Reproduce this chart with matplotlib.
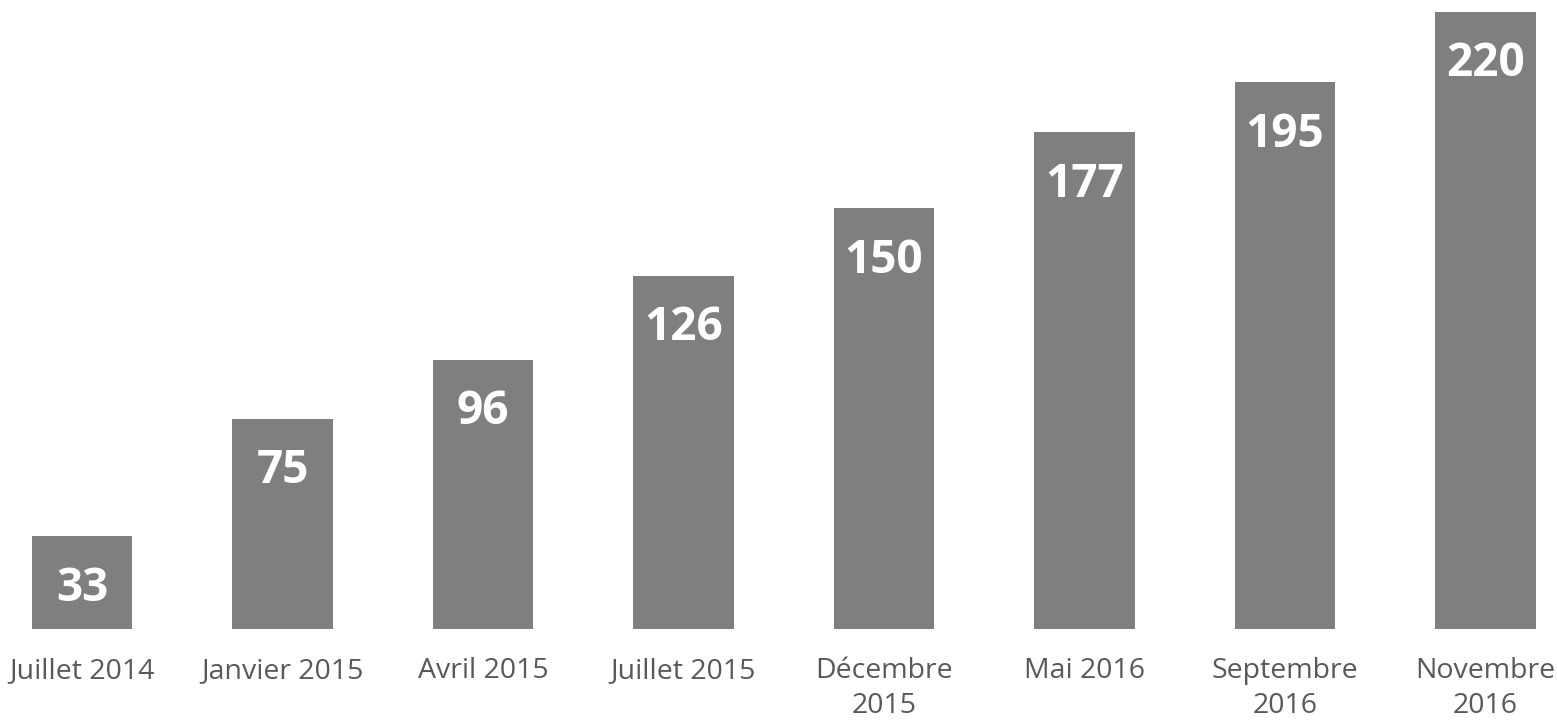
import matplotlib
matplotlib.use("Agg")
import matplotlib.pyplot as plt

categories = ["Juillet 2014", "Janvier 2015", "Avril 2015", "Juillet 2015",
              "Décembre\n2015", "Mai 2016", "Septembre\n2016", "Novembre\n2016"]
values = [33, 75, 96, 126, 150, 177, 195, 220]

plt.rcParams['font.family'] = ['Open Sans', 'DejaVu Sans']

fig = plt.figure(figsize=(15.57, 7.21), dpi=100)
ax = fig.add_axes([0, 92 / 721, 1, 629 / 721])

x = list(range(len(values)))
bars = ax.bar(x, values, width=0.5, color='#7f7f7f')

for xi, v in zip(x, values):
    ax.annotate(str(v), xy=(xi, v), xytext=(0, -46.5), textcoords='offset points',
                ha='center', va='baseline', color='white', fontsize=33,
                fontweight='bold')

ax.set_xlim(-0.409, 7.357)
ax.set_ylim(0, 224.2)
ax.set_xticks(x)
ax.set_xticklabels(categories, fontsize=20.5, color='#595959', linespacing=1.3)
ax.tick_params(axis='x', length=0, pad=20.5)
ax.set_yticks([])
for s in ax.spines.values():
    s.set_visible(False)

fig.savefig("out.png", dpi=100)
